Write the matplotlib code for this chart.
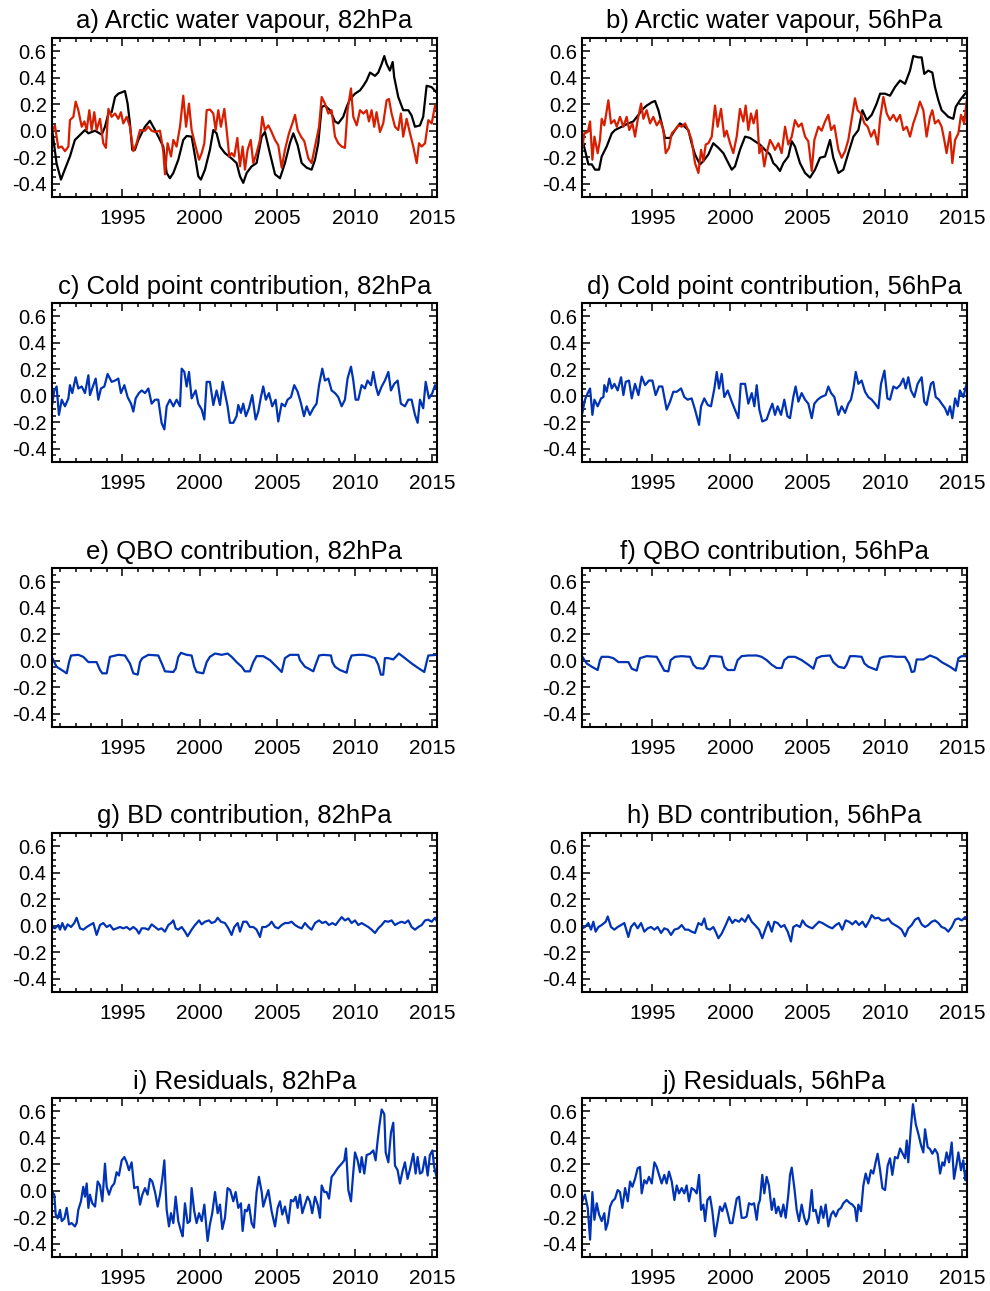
import matplotlib
matplotlib.use("Agg")
import matplotlib.pyplot as plt
from matplotlib.ticker import MultipleLocator
import numpy as np

# --- Panel a: Arctic water vapour, 82hPa (black = observed, red = fit) ---
a_black_t = [1990.48, 1990.76, 1991.04, 1991.30, 1991.62, 1991.94, 1992.16, 1992.59, 1992.81, 1993.24,
             1993.67, 1993.88, 1994.10, 1994.31, 1994.53, 1994.74, 1995.17, 1995.34, 1995.49, 1995.64,
             1995.81, 1996.03, 1996.46, 1996.78, 1997.11, 1997.43, 1997.64, 1997.86, 1998.07, 1998.29,
             1998.61, 1998.93, 1999.15, 1999.47, 1999.69, 1999.90, 2000.07, 2000.33, 2000.65, 2000.87,
             2001.08, 2001.30, 2001.62, 2002.05, 2002.37, 2002.59, 2002.80, 2003.02, 2003.34, 2003.66,
             2003.99, 2004.20, 2004.52, 2004.85, 2005.17, 2005.49, 2005.81, 2006.03, 2006.31, 2006.57,
             2006.89, 2007.21, 2007.43, 2007.64, 2007.86, 2008.07, 2008.40, 2008.72, 2008.93, 2009.25,
             2009.47, 2009.69, 2010.01, 2010.33, 2010.55, 2010.76, 2010.98, 2011.30, 2011.51, 2011.73,
             2011.90, 2012.05, 2012.26, 2012.44, 2012.54, 2012.80, 2013.12, 2013.45, 2013.66, 2013.88,
             2014.20, 2014.41, 2014.63, 2014.95, 2015.27]
a_black_v = [0.0, -0.25, -0.37, -0.29, -0.195, -0.07, -0.045, 0.005, -0.02, 0.0,
             -0.03, 0.03, 0.13, 0.14, 0.255, 0.28, 0.30, 0.205, 0.055, -0.145,
             -0.145, -0.07, 0.03, 0.075, 0.005, -0.07, -0.12, -0.32, -0.36, -0.32,
             -0.22, -0.07, -0.04, -0.045, -0.195, -0.345, -0.37, -0.295, -0.145, 0.005,
             -0.02, -0.12, -0.17, -0.21, -0.245, -0.345, -0.395, -0.32, -0.27, -0.245,
             -0.045, -0.01, -0.17, -0.33, -0.36, -0.245, -0.095, -0.02, -0.11, -0.245,
             -0.28, -0.295, -0.22, -0.095, 0.18, 0.19, 0.155, 0.07, 0.055, 0.105,
             0.18, 0.24, 0.28, 0.305, 0.34, 0.38, 0.44, 0.415, 0.44, 0.505,
             0.565, 0.505, 0.455, 0.52, 0.405, 0.255, 0.155, 0.155, 0.115, 0.03,
             0.04, 0.105, 0.34, 0.33, 0.29]
a_red_t = [1990.48, 1990.65, 1990.87, 1991.09, 1991.30, 1991.52, 1991.62, 1991.84, 1991.99, 1992.16,
           1992.38, 1992.55, 1992.70, 1992.87, 1993.02, 1993.19, 1993.34, 1993.56, 1993.77, 1993.94,
           1994.10, 1994.31, 1994.53, 1994.74, 1994.91, 1995.06, 1995.28, 1995.49, 1995.71, 1995.92,
           1996.14, 1996.46, 1996.68, 1996.89, 1997.11, 1997.43, 1997.64, 1997.75, 1997.92, 1998.14,
           1998.29, 1998.50, 1998.72, 1998.93, 1999.11, 1999.30, 1999.47, 1999.73, 1999.95, 2000.12,
           2000.29, 2000.44, 2000.65, 2000.87, 2001.02, 2001.19, 2001.36, 2001.58, 2001.73, 2001.90,
           2002.05, 2002.22, 2002.42, 2002.59, 2002.76, 2002.91, 2003.08, 2003.28, 2003.45, 2003.66,
           2003.88, 2004.03, 2004.20, 2004.42, 2004.63, 2004.85, 2005.06, 2005.28, 2005.49, 2005.75,
           2005.97, 2006.14, 2006.31, 2006.53, 2006.74, 2007.00, 2007.21, 2007.43, 2007.69, 2007.86,
           2008.07, 2008.29, 2008.50, 2008.72, 2008.93, 2009.15, 2009.36, 2009.53, 2009.75, 2009.90,
           2010.12, 2010.33, 2010.55, 2010.76, 2010.91, 2011.08, 2011.25, 2011.40, 2011.62, 2011.83,
           2012.05, 2012.20, 2012.37, 2012.59, 2012.80, 2012.97, 2013.12, 2013.34, 2013.56, 2013.77,
           2013.99, 2014.14, 2014.31, 2014.53, 2014.74, 2014.96, 2015.17, 2015.27]
a_red_v = [0.0, 0.04, -0.13, -0.12, -0.155, -0.12, 0.08, 0.105, 0.22, 0.155,
           0.03, 0.07, 0.005, 0.155, 0.005, 0.14, 0.005, 0.09, -0.095, -0.13,
           0.165, 0.105, 0.13, 0.09, 0.14, 0.055, 0.105, 0.03, -0.155, -0.095,
           0.005, 0.0, 0.03, 0.0, -0.01, 0.0, -0.155, -0.33, -0.095, -0.195,
           -0.07, -0.12, 0.03, 0.265, 0.03, 0.205, 0.005, -0.12, -0.22, -0.17,
           -0.095, 0.155, 0.16, 0.13, 0.005, 0.155, 0.03, 0.165, 0.005, -0.195,
           -0.17, -0.195, -0.055, -0.27, -0.12, -0.295, -0.145, -0.07, -0.245, -0.17,
           -0.07, 0.105, 0.005, 0.04, -0.01, -0.07, -0.11, -0.28, -0.145, -0.02,
           0.055, 0.12, 0.005, -0.045, -0.08, -0.21, -0.245, -0.12, 0.03, 0.255,
           0.205, 0.13, 0.155, -0.045, -0.095, -0.12, -0.13, 0.155, 0.32, 0.105,
           0.04, 0.155, 0.13, 0.155, 0.07, 0.155, 0.03, 0.14, -0.01, 0.055,
           0.23, 0.24, 0.13, 0.03, 0.005, 0.13, -0.045, 0.09, -0.02, -0.12,
           -0.245, -0.095, -0.12, -0.095, 0.08, 0.055, 0.19, 0.165]

# --- Panel b: Arctic water vapour, 56hPa ---
b_black_t = [1990.48, 1990.65, 1990.87, 1991.09, 1991.30, 1991.56, 1991.73, 1992.05, 1992.38, 1992.59,
             1993.02, 1993.45, 1993.77, 1994.10, 1994.31, 1994.63, 1994.96, 1995.17, 1995.39, 1995.60,
             1995.82, 1996.14, 1996.46, 1996.78, 1996.99, 1997.32, 1997.53, 1997.75, 1998.07, 1998.29,
             1998.61, 1998.93, 1999.26, 1999.58, 1999.90, 2000.12, 2000.33, 2000.65, 2000.98, 2001.30,
             2001.62, 2001.94, 2002.27, 2002.59, 2002.80, 2003.02, 2003.23, 2003.45, 2003.77, 2003.99,
             2004.20, 2004.52, 2004.85, 2005.17, 2005.49, 2005.81, 2006.14, 2006.46, 2006.67, 2007.00,
             2007.32, 2007.64, 2007.97, 2008.29, 2008.55, 2008.83, 2009.15, 2009.47, 2009.69, 2010.01,
             2010.33, 2010.65, 2010.98, 2011.30, 2011.62, 2011.83, 2012.16, 2012.37, 2012.54, 2012.80,
             2013.06, 2013.23, 2013.45, 2013.66, 2013.88, 2014.09, 2014.41, 2014.57, 2014.84, 2015.17,
             2015.27]
b_black_v = [-0.07, -0.145, -0.255, -0.255, -0.295, -0.295, -0.195, -0.12, -0.02, 0.005,
             0.03, 0.055, 0.07, 0.12, 0.155, 0.19, 0.215, 0.225, 0.155, 0.055,
             -0.055, -0.055, 0.005, 0.055, 0.04, 0.005, -0.095, -0.18, -0.255, -0.23,
             -0.18, -0.095, -0.13, -0.17, -0.245, -0.295, -0.27, -0.145, -0.045, -0.055,
             -0.08, -0.105, -0.145, -0.18, -0.245, -0.27, -0.305, -0.245, -0.195, -0.08,
             -0.12, -0.245, -0.32, -0.355, -0.295, -0.205, -0.195, -0.07, -0.205, -0.32,
             -0.295, -0.17, -0.045, 0.005, 0.155, 0.08, 0.12, 0.205, 0.28, 0.28,
             0.265, 0.33, 0.38, 0.355, 0.455, 0.565, 0.555, 0.555, 0.43, 0.455,
             0.44, 0.33, 0.23, 0.155, 0.13, 0.105, 0.09, 0.18, 0.23, 0.28,
             0.29]
b_red_t = [1990.48, 1990.61, 1990.83, 1990.98, 1991.13, 1991.26, 1991.47, 1991.62, 1991.73, 1991.90,
           1992.16, 1992.33, 1992.55, 1992.70, 1992.91, 1993.13, 1993.34, 1993.51, 1993.71, 1993.88,
           1994.05, 1994.27, 1994.42, 1994.63, 1994.85, 1995.06, 1995.28, 1995.49, 1995.71, 1995.86,
           1996.07, 1996.25, 1996.46, 1996.68, 1996.89, 1997.11, 1997.32, 1997.53, 1997.75, 1997.97,
           1998.14, 1998.29, 1998.44, 1998.61, 1998.83, 1999.04, 1999.21, 1999.43, 1999.64, 1999.79,
           2000.01, 2000.22, 2000.44, 2000.65, 2000.87, 2001.02, 2001.19, 2001.36, 2001.53, 2001.73,
           2001.90, 2002.05, 2002.22, 2002.37, 2002.59, 2002.76, 2002.91, 2003.13, 2003.34, 2003.56,
           2003.77, 2003.99, 2004.20, 2004.42, 2004.63, 2004.85, 2005.06, 2005.28, 2005.45, 2005.71,
           2005.92, 2006.14, 2006.35, 2006.53, 2006.74, 2007.00, 2007.21, 2007.43, 2007.64, 2007.86,
           2008.07, 2008.24, 2008.46, 2008.68, 2008.89, 2009.11, 2009.32, 2009.54, 2009.69, 2009.90,
           2010.12, 2010.33, 2010.55, 2010.76, 2010.98, 2011.19, 2011.41, 2011.62, 2011.83, 2012.05,
           2012.26, 2012.48, 2012.69, 2012.91, 2013.06, 2013.23, 2013.45, 2013.66, 2013.83, 2013.98,
           2014.20, 2014.35, 2014.53, 2014.74, 2014.91, 2015.12, 2015.27]
b_red_v = [-0.13, -0.02, -0.01, 0.07, -0.22, -0.045, -0.17, -0.07, 0.09, 0.04,
           0.23, 0.055, 0.08, 0.03, 0.105, 0.03, 0.105, 0.005, 0.055, -0.045,
           0.08, 0.205, 0.09, 0.155, 0.055, 0.105, 0.04, 0.08, 0.005, -0.17,
           -0.13, -0.02, 0.005, 0.04, 0.03, 0.055, 0.0, -0.07, -0.245, -0.32,
           -0.145, -0.23, -0.105, -0.095, -0.045, 0.19, 0.03, 0.165, -0.045, 0.0,
           -0.095, -0.17, -0.045, 0.165, 0.07, 0.19, 0.005, 0.13, 0.055, 0.155,
           -0.17, -0.12, -0.27, -0.17, -0.07, -0.105, -0.145, -0.095, -0.17, 0.03,
           -0.105, -0.045, 0.08, 0.03, 0.055, -0.045, -0.08, -0.305, -0.07, 0.03,
           0.0, 0.07, 0.12, 0.005, 0.04, -0.145, -0.205, -0.155, -0.07, 0.09,
           0.245, 0.155, 0.13, 0.055, 0.03, -0.045, 0.005, -0.105, 0.09, 0.255,
           0.13, 0.08, 0.12, 0.07, 0.12, 0.005, 0.03, -0.045, 0.055, 0.13,
           0.22, 0.155, -0.045, 0.105, 0.155, 0.055, 0.08, 0.03, -0.07, -0.17,
           -0.01, -0.245, -0.07, -0.02, 0.12, 0.055, 0.22]

# --- Panel c: Cold point contribution, 82hPa ---
c_t = [1990.48, 1990.61, 1990.76, 1990.91, 1991.09, 1991.30, 1991.52, 1991.62, 1991.77, 1991.99,
       1992.16, 1992.38, 1992.59, 1992.81, 1992.91, 1993.13, 1993.28, 1993.45, 1993.62, 1993.84,
       1994.05, 1994.31, 1994.53, 1994.74, 1994.91, 1995.13, 1995.34, 1995.56, 1995.71, 1995.86,
       1996.07, 1996.25, 1996.46, 1996.68, 1996.89, 1997.11, 1997.32, 1997.53, 1997.71, 1997.86,
       1998.07, 1998.29, 1998.50, 1998.72, 1998.83, 1999.00, 1999.15, 1999.30, 1999.47, 1999.73,
       1999.90, 2000.12, 2000.29, 2000.44, 2000.65, 2000.87, 2001.08, 2001.30, 2001.47, 2001.62,
       2001.79, 2001.94, 2002.16, 2002.37, 2002.48, 2002.65, 2002.80, 2002.97, 2003.17, 2003.38,
       2003.60, 2003.77, 2003.94, 2004.09, 2004.26, 2004.46, 2004.67, 2004.89, 2005.06, 2005.28,
       2005.49, 2005.66, 2005.88, 2006.09, 2006.31, 2006.53, 2006.72, 2006.89, 2007.10, 2007.32,
       2007.53, 2007.69, 2007.90, 2008.07, 2008.29, 2008.50, 2008.72, 2008.93, 2009.15, 2009.36,
       2009.53, 2009.75, 2009.90, 2010.05, 2010.22, 2010.44, 2010.65, 2010.82, 2011.04, 2011.19,
       2011.36, 2011.51, 2011.73, 2011.94, 2012.16, 2012.33, 2012.54, 2012.76, 2012.97, 2013.23,
       2013.45, 2013.66, 2013.88, 2014.05, 2014.20, 2014.41, 2014.57, 2014.78, 2015.00, 2015.17,
       2015.27]
c_v = [-0.06, 0.04, 0.07, -0.145, -0.03, -0.08, -0.02, 0.08, 0.02, 0.14,
       0.055, 0.07, 0.02, 0.155, 0.005, 0.08, 0.13, -0.03, 0.055, 0.07,
       0.165, 0.105, 0.115, 0.13, 0.02, 0.08, -0.01, -0.06, -0.12, -0.02,
       0.02, 0.04, 0.02, 0.055, -0.06, -0.03, -0.03, -0.205, -0.255, -0.08,
       -0.03, -0.08, -0.03, -0.08, 0.205, 0.18, 0.07, 0.18, -0.02, 0.04,
       -0.06, -0.105, -0.18, 0.105, 0.105, -0.07, 0.04, -0.07, 0.105, 0.02,
       -0.08, -0.205, -0.205, -0.155, -0.07, -0.13, -0.06, -0.155, -0.095, 0.005,
       -0.18, -0.12, -0.01, 0.07, -0.03, 0.02, -0.08, -0.03, -0.195, -0.06,
       -0.08, -0.03, -0.01, 0.08, 0.03, -0.06, -0.155, -0.08, -0.145, -0.095,
       -0.06, 0.08, 0.205, 0.115, 0.13, 0.04, 0.02, -0.01, -0.08, -0.03,
       0.13, 0.22, 0.115, -0.03, -0.03, 0.08, 0.055, 0.115, 0.08, 0.18,
       0.07, 0.005, 0.07, 0.115, 0.18, 0.04, 0.09, 0.115, -0.06, -0.08,
       -0.03, -0.03, -0.145, -0.205, -0.03, -0.095, 0.105, -0.02, 0.02, 0.08,
       0.055]

# --- Panel d: Cold point contribution, 56hPa ---
d_t = [1990.48, 1990.65, 1990.83, 1990.98, 1991.13, 1991.26, 1991.47, 1991.69, 1991.84, 1991.90,
       1992.05, 1992.22, 1992.38, 1992.55, 1992.76, 1992.98, 1993.13, 1993.28, 1993.49, 1993.67,
       1993.88, 1994.10, 1994.31, 1994.53, 1994.78, 1995.00, 1995.21, 1995.43, 1995.64, 1995.77,
       1995.92, 1996.14, 1996.35, 1996.57, 1996.85, 1997.06, 1997.28, 1997.53, 1997.75, 1997.86,
       1998.01, 1998.14, 1998.35, 1998.57, 1998.78, 1999.00, 1999.15, 1999.30, 1999.47, 1999.64,
       1999.86, 2000.12, 2000.33, 2000.55, 2000.70, 2000.98, 2001.19, 2001.41, 2001.58, 2001.73,
       2001.90, 2002.09, 2002.37, 2002.59, 2002.74, 2002.91, 2003.08, 2003.30, 2003.51, 2003.71,
       2003.88, 2004.09, 2004.24, 2004.42, 2004.63, 2004.85, 2005.06, 2005.28, 2005.45, 2005.66,
       2005.88, 2006.18, 2006.35, 2006.53, 2006.74, 2007.00, 2007.21, 2007.43, 2007.64, 2007.81,
       2007.97, 2008.12, 2008.29, 2008.50, 2008.72, 2008.93, 2009.15, 2009.36, 2009.58, 2009.75,
       2009.97, 2010.16, 2010.33, 2010.55, 2010.76, 2010.98, 2011.19, 2011.34, 2011.51, 2011.68,
       2011.90, 2012.11, 2012.37, 2012.54, 2012.69, 2012.97, 2013.12, 2013.28, 2013.49, 2013.66,
       2013.88, 2014.05, 2014.20, 2014.35, 2014.53, 2014.70, 2014.84, 2015.06, 2015.27]
d_v = [-0.13, -0.03, 0.02, 0.055, -0.145, -0.03, -0.08, -0.02, -0.01, 0.08,
       0.03, 0.13, 0.055, 0.09, 0.04, 0.14, 0.005, 0.105, 0.115, -0.02,
       0.09, 0.005, 0.145, 0.08, 0.115, 0.115, 0.005, 0.07, 0.07, -0.01,
       -0.105, -0.045, 0.03, 0.03, 0.055, -0.01, -0.03, -0.02, -0.105, -0.155,
       -0.22, -0.08, -0.02, -0.07, -0.08, 0.055, 0.18, 0.055, 0.165, -0.01,
       0.04, -0.045, -0.105, -0.17, 0.09, 0.09, -0.06, 0.02, -0.08, 0.08,
       -0.105, -0.195, -0.18, -0.105, -0.06, -0.145, -0.08, -0.145, -0.03, -0.155,
       -0.17, -0.01, 0.07, -0.045, 0.02, -0.03, -0.06, -0.17, -0.06, -0.03,
       -0.01, 0.005, 0.07, 0.02, -0.01, -0.145, -0.08, -0.13, -0.06, -0.03,
       0.055, 0.18, 0.09, 0.115, 0.03, -0.01, -0.03, -0.06, -0.095, 0.09,
       0.19, -0.02, -0.03, 0.07, 0.055, 0.08, 0.13, 0.055, 0.14, 0.04,
       -0.01, 0.09, 0.14, -0.045, -0.07, 0.09, 0.105, -0.01, -0.03, -0.06,
       -0.095, -0.145, -0.08, -0.17, -0.02, -0.08, 0.04, -0.01, 0.09]

# --- Panel e: QBO contribution, 82hPa ---
e_t = [1990.48, 1990.76, 1991.09, 1991.41, 1991.56, 1991.69, 1992.16, 1992.48, 1992.81, 1993.34,
       1993.56, 1993.71, 1993.99, 1994.20, 1994.74, 1995.17, 1995.49, 1995.71, 1995.99, 1996.14,
       1996.29, 1996.68, 1997.32, 1997.58, 1997.75, 1998.29, 1998.44, 1998.61, 1998.78, 1999.15,
       1999.47, 1999.64, 1999.79, 2000.22, 2000.44, 2000.65, 2000.98, 2001.41, 2001.79, 2002.05,
       2002.37, 2002.70, 2002.91, 2003.23, 2003.45, 2003.66, 2004.09, 2004.52, 2004.95, 2005.28,
       2005.49, 2005.81, 2006.35, 2006.46, 2006.78, 2007.10, 2007.32, 2007.47, 2007.69, 2007.97,
       2008.46, 2008.55, 2008.72, 2009.04, 2009.47, 2009.62, 2009.79, 2010.22, 2010.55, 2010.82,
       2011.30, 2011.51, 2011.68, 2011.83, 2011.94, 2012.16, 2012.48, 2012.84, 2013.23, 2013.66,
       2014.09, 2014.48, 2014.63, 2014.74, 2015.27]
e_v = [0.02, -0.045, -0.07, -0.095, -0.01, 0.04, 0.045, 0.03, -0.01, -0.01,
       -0.07, -0.095, -0.095, 0.03, 0.045, 0.04, -0.02, -0.095, -0.105, -0.01,
       0.02, 0.045, 0.04, -0.03, -0.08, -0.085, -0.06, 0.03, 0.06, 0.045,
       0.04, -0.045, -0.085, -0.095, -0.01, 0.03, 0.055, 0.045, 0.055, 0.03,
       -0.01, -0.045, -0.08, -0.08, -0.01, 0.035, 0.035, 0.005, -0.045, -0.085,
       0.02, 0.045, 0.045, 0.005, -0.045, -0.065, -0.08, -0.03, 0.04, 0.045,
       0.04, -0.01, -0.045, -0.07, -0.09, -0.01, 0.04, 0.045, 0.045, 0.04,
       0.02, -0.03, -0.105, -0.105, 0.02, 0.02, 0.01, 0.055, 0.02, -0.02,
       -0.055, -0.085, -0.01, 0.04, 0.045]

# --- Panel f: QBO contribution, 56hPa ---
f_t = [1990.48, 1990.76, 1991.09, 1991.47, 1991.62, 1991.73, 1992.16, 1992.48, 1992.81, 1993.45,
       1993.67, 1993.99, 1994.20, 1994.63, 1995.28, 1995.56, 1995.77, 1996.03, 1996.18, 1996.46,
       1996.89, 1997.43, 1997.64, 1997.86, 1998.29, 1998.50, 1998.72, 1999.04, 1999.47, 1999.64,
       1999.86, 2000.29, 2000.50, 2000.76, 2001.19, 2001.73, 2002.05, 2002.37, 2002.70, 2003.02,
       2003.34, 2003.51, 2003.77, 2004.20, 2004.63, 2005.06, 2005.39, 2005.60, 2005.92, 2006.46,
       2006.67, 2007.00, 2007.38, 2007.53, 2007.75, 2008.07, 2008.50, 2008.68, 2008.93, 2009.47,
       2009.69, 2009.90, 2010.33, 2010.76, 2011.30, 2011.56, 2011.73, 2011.90, 2012.05, 2012.48,
       2012.91, 2013.34, 2013.66, 2014.20, 2014.57, 2014.74, 2014.96, 2015.27]
f_v = [0.03, -0.02, -0.045, -0.07, 0.005, 0.03, 0.03, 0.02, -0.01, -0.01,
       -0.06, -0.075, 0.02, 0.035, 0.03, -0.03, -0.075, -0.08, 0.005, 0.03,
       0.035, 0.03, -0.03, -0.055, -0.06, -0.03, 0.035, 0.035, 0.03, -0.045,
       -0.07, -0.07, 0.005, 0.035, 0.04, 0.04, 0.03, 0.005, -0.03, -0.055,
       -0.055, 0.005, 0.03, 0.03, 0.005, -0.03, -0.06, 0.02, 0.035, 0.04,
       -0.01, -0.045, -0.055, -0.03, 0.035, 0.035, 0.03, -0.02, -0.045, -0.07,
       0.02, 0.03, 0.035, 0.03, 0.03, -0.02, -0.085, -0.08, 0.01, 0.01,
       0.04, 0.02, -0.01, -0.045, -0.075, 0.02, 0.035, 0.035]

# --- Panel g: BD contribution, 82hPa ---
g_t = [1990.48, 1990.65, 1990.87, 1990.98, 1991.13, 1991.30, 1991.47, 1991.69, 1991.90, 1992.05,
       1992.27, 1992.48, 1992.70, 1992.91, 1993.13, 1993.34, 1993.56, 1993.77, 1993.99, 1994.20,
       1994.42, 1994.63, 1994.85, 1995.06, 1995.28, 1995.49, 1995.71, 1995.92, 1996.07, 1996.25,
       1996.46, 1996.68, 1996.89, 1997.11, 1997.32, 1997.53, 1997.75, 1997.97, 1998.14, 1998.29,
       1998.44, 1998.61, 1998.83, 1999.04, 1999.21, 1999.47, 1999.69, 1999.95, 2000.12, 2000.33,
       2000.59, 2000.76, 2000.98, 2001.15, 2001.36, 2001.62, 2001.84, 2002.05, 2002.22, 2002.44,
       2002.59, 2002.80, 2003.02, 2003.23, 2003.45, 2003.66, 2003.88, 2004.03, 2004.24, 2004.46,
       2004.63, 2004.85, 2005.06, 2005.28, 2005.49, 2005.71, 2005.92, 2006.14, 2006.35, 2006.57,
       2006.78, 2007.00, 2007.21, 2007.43, 2007.69, 2007.90, 2008.12, 2008.33, 2008.55, 2008.76,
       2008.98, 2009.15, 2009.36, 2009.58, 2009.79, 2010.01, 2010.22, 2010.44, 2010.65, 2010.87,
       2011.08, 2011.30, 2011.51, 2011.73, 2011.94, 2012.16, 2012.37, 2012.59, 2012.80, 2013.02,
       2013.23, 2013.45, 2013.66, 2013.88, 2014.09, 2014.31, 2014.53, 2014.74, 2014.96, 2015.17,
       2015.27]
g_v = [-0.01, -0.02, 0.005, -0.03, 0.02, -0.03, 0.01, -0.01, 0.02, 0.06,
       -0.02, -0.03, -0.01, 0.005, 0.02, -0.07, 0.005, 0.02, -0.01, 0.005,
       -0.03, -0.02, -0.01, -0.02, -0.01, -0.03, -0.01, -0.03, -0.06, -0.02,
       -0.02, -0.03, 0.01, -0.01, -0.03, -0.02, -0.045, 0.005, 0.02, 0.04,
       -0.02, -0.03, -0.01, -0.045, -0.08, -0.03, 0.005, 0.04, 0.01, 0.03,
       0.04, 0.02, 0.03, 0.06, 0.03, 0.02, -0.02, -0.07, -0.01, 0.02,
       -0.045, 0.03, 0.03, -0.01, -0.01, -0.03, -0.085, -0.01, -0.01, 0.005,
       0.03, -0.01, -0.02, 0.005, 0.02, 0.02, 0.03, 0.005, -0.01, -0.02,
       0.02, -0.01, -0.03, 0.02, 0.04, 0.02, 0.03, 0.005, 0.02, 0.005,
       0.04, 0.065, 0.04, 0.055, 0.02, 0.04, 0.005, 0.02, 0.005, -0.01,
       -0.03, -0.055, -0.02, 0.005, 0.035, 0.03, 0.04, 0.005, 0.02, 0.03,
       0.02, 0.04, -0.01, -0.03, -0.01, 0.005, 0.04, 0.045, 0.03, 0.06,
       0.04]

# --- Panel h: BD contribution, 56hPa ---
h_t = [1990.48, 1990.65, 1990.87, 1991.04, 1991.19, 1991.34, 1991.52, 1991.73, 1991.99, 1992.12,
       1992.33, 1992.55, 1992.76, 1992.98, 1993.19, 1993.45, 1993.62, 1993.84, 1994.05, 1994.27,
       1994.48, 1994.70, 1994.91, 1995.13, 1995.34, 1995.56, 1995.77, 1995.99, 1996.20, 1996.42,
       1996.68, 1996.89, 1997.11, 1997.32, 1997.53, 1997.75, 1997.97, 1998.18, 1998.35, 1998.50,
       1998.72, 1998.93, 1999.08, 1999.26, 1999.47, 1999.73, 1999.95, 2000.16, 2000.33, 2000.59,
       2000.76, 2000.98, 2001.19, 2001.41, 2001.62, 2001.88, 2002.09, 2002.31, 2002.48, 2002.70,
       2002.87, 2003.08, 2003.30, 2003.51, 2003.73, 2003.94, 2004.09, 2004.31, 2004.52, 2004.69,
       2004.89, 2005.10, 2005.32, 2005.53, 2005.75, 2005.97, 2006.18, 2006.40, 2006.61, 2006.83,
       2007.04, 2007.25, 2007.47, 2007.69, 2007.90, 2008.12, 2008.33, 2008.55, 2008.76, 2008.98,
       2009.15, 2009.36, 2009.58, 2009.79, 2010.01, 2010.22, 2010.44, 2010.65, 2010.87, 2011.08,
       2011.30, 2011.51, 2011.73, 2011.94, 2012.16, 2012.37, 2012.59, 2012.80, 2013.02, 2013.23,
       2013.45, 2013.66, 2013.88, 2014.09, 2014.31, 2014.53, 2014.74, 2014.96, 2015.17, 2015.27]
h_v = [-0.02, -0.01, 0.02, -0.03, 0.03, -0.045, -0.01, 0.005, 0.03, 0.07,
       -0.01, -0.03, -0.01, 0.005, 0.02, -0.085, -0.01, 0.02, -0.02, 0.02,
       -0.045, -0.02, -0.01, -0.03, -0.01, -0.055, -0.02, -0.03, -0.07, -0.03,
       -0.02, 0.005, -0.03, -0.03, -0.045, -0.055, 0.02, 0.005, 0.055, -0.02,
       -0.03, -0.01, -0.045, -0.095, -0.06, 0.005, 0.065, 0.02, 0.045, 0.03,
       0.055, 0.03, 0.08, 0.03, 0.005, -0.03, -0.095, -0.02, 0.03, -0.045,
       0.03, 0.02, -0.01, 0.005, -0.045, -0.12, -0.01, 0.005, -0.01, 0.04,
       0.005, -0.01, -0.02, 0.005, 0.03, 0.02, 0.005, -0.01, -0.02, 0.005,
       0.02, -0.03, 0.04, 0.03, 0.01, 0.035, 0.005, 0.03, -0.01, 0.035,
       0.08, 0.055, 0.06, 0.04, 0.04, 0.055, 0.02, 0.005, -0.01, -0.03,
       -0.08, -0.02, 0.005, 0.045, 0.06, 0.01, -0.01, 0.005, 0.03, 0.04,
       0.02, -0.01, -0.02, -0.045, -0.01, 0.045, 0.055, 0.04, 0.065, 0.055]

# --- Panel i: Residuals, 82hPa ---
i_t = [1990.48, 1990.61, 1990.70, 1990.83, 1990.98, 1991.09, 1991.26, 1991.41, 1991.56, 1991.73,
       1991.94, 1992.05, 1992.16, 1992.33, 1992.48, 1992.59, 1992.70, 1992.81, 1992.91, 1993.06,
       1993.24, 1993.41, 1993.56, 1993.71, 1993.88, 1993.99, 1994.14, 1994.31, 1994.48, 1994.63,
       1994.78, 1994.96, 1995.13, 1995.28, 1995.43, 1995.60, 1995.77, 1995.99, 1996.14, 1996.29,
       1996.46, 1996.63, 1996.78, 1996.93, 1997.11, 1997.28, 1997.43, 1997.58, 1997.71, 1997.86,
       1998.01, 1998.14, 1998.29, 1998.44, 1998.61, 1998.78, 1998.89, 1999.04, 1999.21, 1999.36,
       1999.47, 1999.64, 1999.79, 1999.95, 2000.12, 2000.29, 2000.44, 2000.50, 2000.65, 2000.80,
       2000.98, 2001.15, 2001.30, 2001.45, 2001.62, 2001.79, 2001.96, 2002.16, 2002.31, 2002.48,
       2002.65, 2002.76, 2002.91, 2003.04, 2003.17, 2003.34, 2003.49, 2003.66, 2003.81, 2003.99,
       2004.09, 2004.24, 2004.42, 2004.63, 2004.85, 2005.02, 2005.17, 2005.32, 2005.49, 2005.71,
       2005.88, 2006.03, 2006.18, 2006.31, 2006.46, 2006.61, 2006.78, 2006.95, 2007.10, 2007.25,
       2007.43, 2007.60, 2007.75, 2007.86, 2008.03, 2008.18, 2008.33, 2008.50, 2008.67, 2008.89,
       2009.15, 2009.32, 2009.43, 2009.58, 2009.75, 2009.90, 2010.01, 2010.18, 2010.33, 2010.44,
       2010.61, 2010.76, 2010.98, 2011.19, 2011.34, 2011.47, 2011.58, 2011.73, 2011.90, 2011.99,
       2012.16, 2012.33, 2012.48, 2012.59, 2012.76, 2012.91, 2013.06, 2013.23, 2013.40, 2013.56,
       2013.77, 2013.92, 2014.05, 2014.20, 2014.35, 2014.53, 2014.70, 2014.84, 2015.00, 2015.12,
       2015.27]
i_v = [-0.01, -0.03, -0.18, -0.21, -0.145, -0.23, -0.21, -0.13, -0.255, -0.245,
       -0.27, -0.245, -0.145, -0.08, 0.03, -0.045, 0.055, -0.13, -0.03, -0.095,
       -0.12, 0.07, 0.04, -0.08, 0.205, 0.03, -0.03, 0.03, 0.055, 0.14,
       0.115, 0.23, 0.255, 0.215, 0.155, 0.215, 0.02, 0.03, -0.105, -0.03,
       0.02, -0.03, 0.09, 0.07, -0.01, -0.12, -0.03, 0.09, 0.23, -0.145,
       -0.27, -0.17, -0.245, -0.045, -0.23, -0.305, -0.345, -0.095, -0.245, -0.23,
       0.02, -0.155, -0.245, -0.17, -0.23, -0.105, -0.295, -0.38, -0.255, -0.17,
       -0.01, -0.17, -0.105, -0.29, -0.205, 0.02, 0.005, -0.08, -0.01, -0.13,
       -0.095, -0.305, -0.145, -0.155, -0.105, -0.245, -0.28, -0.01, 0.105, -0.01,
       -0.12, -0.06, 0.005, -0.155, -0.27, -0.13, -0.08, -0.18, -0.12, -0.245,
       -0.07, -0.08, -0.045, -0.13, -0.03, -0.17, -0.105, -0.045, -0.08, -0.17,
       -0.045, -0.105, -0.205, 0.04, -0.01, -0.01, -0.06, 0.105, 0.13, 0.17,
       0.205, 0.23, 0.32, 0.005, -0.08, 0.14, 0.29, 0.23, 0.14, 0.255,
       0.13, 0.27, 0.28, 0.305, 0.23, 0.38, 0.49, 0.615, 0.58, 0.29,
       0.215, 0.44, 0.515, 0.19, 0.155, 0.055, 0.14, 0.215, 0.09, 0.165,
       0.28, 0.13, 0.255, 0.13, 0.14, 0.255, 0.115, 0.27, 0.305, 0.18,
       0.105]

# --- Panel j: Residuals, 56hPa ---
j_t = [1990.48, 1990.65, 1990.83, 1990.98, 1991.13, 1991.26, 1991.41, 1991.56, 1991.73, 1991.90,
       1991.99, 1992.12, 1992.27, 1992.42, 1992.59, 1992.76, 1992.91, 1993.06, 1993.24, 1993.41,
       1993.56, 1993.71, 1993.88, 1994.05, 1994.20, 1994.31, 1994.48, 1994.63, 1994.78, 1994.96,
       1995.13, 1995.28, 1995.43, 1995.60, 1995.77, 1995.92, 1996.07, 1996.25, 1996.42, 1996.57,
       1996.72, 1996.89, 1997.06, 1997.21, 1997.36, 1997.53, 1997.71, 1997.86, 1998.01, 1998.14,
       1998.29, 1998.40, 1998.55, 1998.72, 1998.87, 1999.04, 1999.21, 1999.36, 1999.51, 1999.69,
       1999.86, 2000.01, 2000.16, 2000.33, 2000.44, 2000.59, 2000.76, 2000.93, 2001.08, 2001.23,
       2001.41, 2001.56, 2001.73, 2001.84, 2001.94, 2002.09, 2002.22, 2002.37, 2002.52, 2002.70,
       2002.85, 2002.98, 2003.13, 2003.30, 2003.45, 2003.60, 2003.77, 2003.88, 2003.99, 2004.16,
       2004.31, 2004.46, 2004.63, 2004.80, 2004.95, 2005.10, 2005.28, 2005.38, 2005.53, 2005.71,
       2005.88, 2006.03, 2006.18, 2006.35, 2006.53, 2006.67, 2006.83, 2007.00, 2007.17, 2007.32,
       2007.53, 2007.75, 2007.90, 2008.07, 2008.18, 2008.29, 2008.46, 2008.61, 2008.76, 2008.93,
       2009.10, 2009.25, 2009.43, 2009.53, 2009.69, 2009.84, 2010.01, 2010.18, 2010.33, 2010.48,
       2010.65, 2010.82, 2010.98, 2011.15, 2011.30, 2011.41, 2011.51, 2011.68, 2011.81, 2011.99,
       2012.16, 2012.33, 2012.48, 2012.59, 2012.76, 2012.91, 2013.06, 2013.23, 2013.40, 2013.56,
       2013.71, 2013.83, 2013.98, 2014.14, 2014.31, 2014.46, 2014.63, 2014.74, 2014.91, 2015.06,
       2015.19, 2015.27]
j_v = [-0.08, -0.03, -0.13, -0.37, -0.01, -0.22, -0.095, -0.18, -0.23, -0.17,
       -0.295, -0.245, -0.12, -0.08, -0.06, 0.005, -0.01, -0.13, 0.02, -0.08,
       0.07, 0.03, 0.09, 0.17, 0.18, -0.02, 0.08, 0.055, 0.105, 0.055,
       0.215, 0.18, 0.12, 0.055, 0.12, 0.055, 0.145, 0.07, -0.07, 0.04,
       -0.02, 0.02, -0.02, 0.04, -0.08, 0.02, 0.005, -0.02, 0.12, -0.145,
       -0.105, -0.23, -0.07, -0.045, -0.155, -0.345, -0.23, -0.12, -0.155, -0.095,
       -0.17, -0.245, -0.245, -0.13, -0.06, -0.045, -0.205, -0.205, -0.195, -0.095,
       -0.105, -0.095, -0.22, -0.105, -0.07, 0.12, -0.02, 0.105, 0.04, -0.145,
       -0.06, -0.17, -0.12, -0.195, -0.105, -0.205, -0.03, 0.12, 0.175, 0.02,
       -0.145, -0.23, -0.105, -0.205, -0.255, -0.205, 0.005, -0.155, -0.145, -0.245,
       -0.12, -0.205, -0.105, -0.27, -0.18, -0.155, -0.195, -0.145, -0.13, -0.095,
       -0.07, -0.095, -0.105, -0.13, -0.23, -0.105, -0.155, 0.04, 0.13, 0.055,
       0.155, 0.13, 0.23, 0.28, 0.155, 0.02, 0.005, 0.19, 0.245, 0.12,
       0.255, 0.245, 0.32, 0.28, 0.245, 0.38, 0.215, 0.48, 0.655, 0.505,
       0.43, 0.345, 0.29, 0.465, 0.33, 0.315, 0.28, 0.315, 0.28, 0.13,
       0.215, 0.19, 0.29, 0.215, 0.365, 0.09, 0.205, 0.29, 0.155, 0.23,
       0.08, 0.13]

titles = ["a) Arctic water vapour, 82hPa", "b) Arctic water vapour, 56hPa",
          "c) Cold point contribution, 82hPa", "d) Cold point contribution, 56hPa",
          "e) QBO contribution, 82hPa", "f) QBO contribution, 56hPa",
          "g) BD contribution, 82hPa", "h) BD contribution, 56hPa",
          "i) Residuals, 82hPa", "j) Residuals, 56hPa"]

black = 'black'
red = '#D71E00'
blue = '#0033B5'

# series per panel: list of (t, v, colour)
panels = [
    [(a_black_t, a_black_v, black), (a_red_t, a_red_v, red)],
    [(b_black_t, b_black_v, black), (b_red_t, b_red_v, red)],
    [(c_t, c_v, blue)], [(d_t, d_v, blue)],
    [(e_t, e_v, blue)], [(f_t, f_v, blue)],
    [(g_t, g_v, blue)], [(h_t, h_v, blue)],
    [(i_t, i_v, blue)], [(j_t, j_v, blue)],
]

plt.rcParams['font.family'] = ['Liberation Sans', 'DejaVu Sans']

fig = plt.figure(figsize=(9.9, 12.91), dpi=100)
fig.patch.set_facecolor('white')

col_left = [0.0528, 0.5882]
ax_w = 0.3883
ax_h = 0.1228
row_bottom = [0.8476, 0.6423, 0.4370, 0.2318, 0.0265]

for k, series in enumerate(panels):
    r, c = divmod(k, 2)
    ax = fig.add_axes([col_left[c], row_bottom[r], ax_w, ax_h])
    for t, v, col in series:
        ax.plot(t, v, color=col, linewidth=1.6)
    ax.set_xlim(1990.48, 2015.28)
    ax.set_ylim(-0.5, 0.7)
    ax.set_xticks([1995, 2000, 2005, 2010, 2015])
    ax.set_yticks([-0.4, -0.2, 0.0, 0.2, 0.4, 0.6])
    ax.set_yticklabels(['-0.4', '-0.2', '0.0', '0.2', '0.4', '0.6'])
    ax.xaxis.set_minor_locator(MultipleLocator(1))
    ax.yaxis.set_minor_locator(MultipleLocator(0.05))
    ax.tick_params(which='both', direction='in', top=True, right=True, width=1.1)
    ax.tick_params(which='major', length=6)
    ax.tick_params(which='minor', length=3)
    ax.tick_params(axis='x', labelsize=15, pad=9)
    ax.tick_params(axis='y', labelsize=14.5, pad=4)
    for s in ax.spines.values():
        s.set_linewidth(1.5)
    ax.set_title(titles[k], fontsize=18.5, pad=7)

fig.savefig('out.png', dpi=100, facecolor='white')
